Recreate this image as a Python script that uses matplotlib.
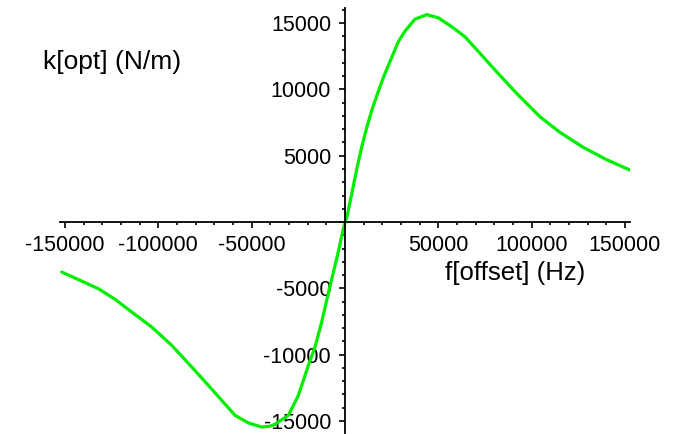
import numpy as np
import matplotlib.pyplot as plt
from matplotlib.ticker import MultipleLocator, FuncFormatter

# optical spring constant k[opt] (N/m) vs. frequency offset (Hz)
f_neg = [-151770, -132130, -123200, -114270, -103550, -92850, -82130,
         -73200, -58910, -51770, -44630, -40200, -37480, -30340, -24980,
         -19630, -16050, -12500, -8570, -4000, -890]
k_neg = [-3770, -5030, -5830, -6790, -7920, -9300, -10930,
         -12320, -14580, -15150, -15460, -15400, -15250, -14580, -13070,
         -10810, -9420, -7540, -5150, -2500, -500]

f_pos = [0, 900, 3570, 6250, 8930, 11600, 14290, 16970, 20540, 24110,
         28580, 32150, 37500, 43760, 50000, 57150, 64300, 72320, 81250,
         91960, 104460, 115170, 127670, 140170, 152670]
k_pos = [0, 300, 2100, 3950, 5650, 7100, 8400, 9500, 10900, 12100,
         13600, 14400, 15300, 15640, 15400, 14730, 13970, 12720, 11330,
         9700, 7940, 6760, 5630, 4700, 3920]

f_offset = np.array(f_neg + f_pos)
k_opt = np.array(k_neg + k_pos)

W, H = 677, 434
fig = plt.figure(figsize=(W / 100, H / 100), dpi=100)
plt.rcParams['font.family'] = ['Liberation Sans', 'DejaVu Sans']

ax = fig.add_axes([60 / W, 1 / H, 570 / W, 425 / H])
ax.plot(f_offset, k_opt, color='#00ee00', lw=2.3,
        solid_capstyle='round', solid_joinstyle='round')

ax.set_xlim(-152700, 152700)
ax.set_ylim(-15910, 16140)

# axes crossing at the origin
for side in ('top', 'right'):
    ax.spines[side].set_visible(False)
ax.spines['left'].set_position('zero')
ax.spines['bottom'].set_position('zero')
for side in ('left', 'bottom'):
    ax.spines[side].set_linewidth(1.3)

ax.xaxis.set_major_locator(MultipleLocator(50000))
ax.xaxis.set_minor_locator(MultipleLocator(10000))
ax.yaxis.set_major_locator(MultipleLocator(5000))
ax.yaxis.set_minor_locator(MultipleLocator(1000))

nozero = FuncFormatter(lambda v, p: '' if abs(v) < 1e-9 else '%d' % v)
ax.xaxis.set_major_formatter(nozero)
ax.yaxis.set_major_formatter(nozero)

ax.tick_params(which='major', direction='out', length=4, width=1.2,
               labelsize=15.5, colors='black')
ax.tick_params(which='minor', direction='out', length=2.5, width=1.2)
ax.tick_params(axis='x', pad=5)
ax.tick_params(axis='y', pad=6)
ax.set_facecolor('white')

fig.text(43 / W, 1 - 62 / H, 'k[opt] (N/m)', fontsize=19,
         ha='left', va='center')
fig.text(515 / W, 1 - 273 / H, 'f[offset] (Hz)', fontsize=18.5,
         ha='center', va='center')

fig.savefig('out.png', dpi=100, facecolor='white')
